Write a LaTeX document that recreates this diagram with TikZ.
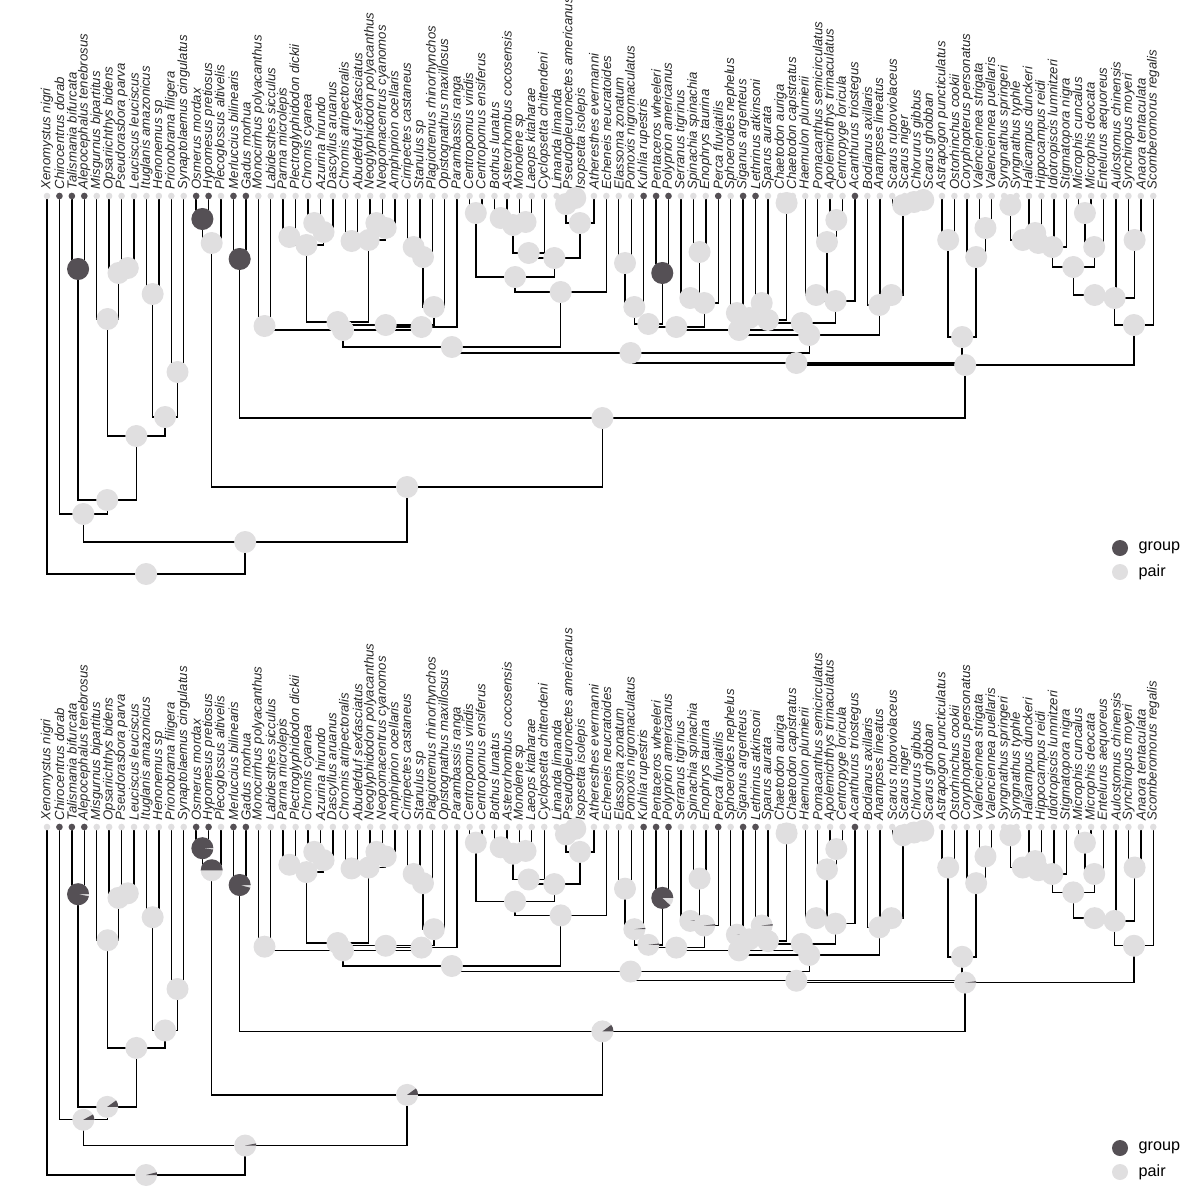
\documentclass[tikz,border=0pt]{standalone}
\usepackage{fontspec}
\setmainfont{Liberation Sans}
\usetikzlibrary{calc}
\definecolor{grp}{RGB}{85,80,85}
\definecolor{par}{RGB}{224,223,224}
\tikzset{
  edge/.style={draw=black,line width=0.4pt},
  tiplab/.style={anchor=west,rotate=90,inner sep=0pt,font=\fontsize{3.75}{4}\selectfont\itshape,text=black!85},
  leglab/.style={anchor=west,inner sep=0pt,font=\fontsize{4.6}{5}\selectfont}
}
\begin{document}
\begin{tikzpicture}[x=0.01cm,y=-0.01cm]
\useasboundingbox (0,0) rectangle (1200,1200);
\foreach \t/\oy/\ty/\sc in {a/0/196/1,b/600/827/0.9206}{
  % tips
  \foreach \nm [count=\i] in {Xenomystus nigri,Chirocentrus dorab,Talismania bifurcata,Alepocephalus tenebrosus,Misgurnus bipartitus,Opsariichthys bidens,Pseudorasbora parva,Leuciscus leuciscus,Ituglanis amazonicus,Henonemus sp,Prionobrama filigera,Synaptolaemus cingulatus,Osmerus mordax,Hypomesus pretiosus,Plecoglossus altivelis,Merluccius bilinearis,Gadus morhua,Monocirrhus polyacanthus,Labidesthes sicculus,Parma microlepis,Plectroglyphidodon dickii,Chromis cyanea,Azurina hirundo,Dascyllus aruanus,Chromis atripectoralis,Abudefduf sexfasciatus,Neoglyphidodon polyacanthus,Neopomacentrus cyanomos,Amphiprion ocellaris,Cirripectes castaneus,Stanulus sp,Plagiotremus rhinorhynchos,Opistognathus maxillosus,Parambassis ranga,Centropomus viridis,Centropomus ensiferus,Bothus lunatus,Asterorhombus cocosensis,Monolene sp,Laeops kitaharae,Cyclopsetta chittendeni,Limanda limanda,Pseudopleuronectes americanus,Isopsetta isolepis,Atheresthes evermanni,Echeneis neucratoides,Elassoma zonatum,Pomoxis nigromaculatus,Kuhlia rupestris,Pentaceros wheeleri,Polyprion americanus,Serranus tigrinus,Spinachia spinachia,Enophrys taurina,Perca fluviatilis,Sphoeroides nephelus,Siganus argenteus,Lethrinus atkinsoni,Sparus aurata,Chaetodon auriga,Chaetodon capistratus,Haemulon plumierii,Pomacanthus semicirculatus,Apolemichthys trimaculatus,Centropyge loricula,Acanthurus triostegus,Bodianus axillaris,Anampses lineatus,Scarus rubroviolaceus,Scarus niger,Chlorurus gibbus,Scarus ghobban,Astrapogon puncticulatus,Ostorhinchus cookii,Coryphopterus personatus,Valenciennea strigata,Valenciennea puellaris,Syngnathus springeri,Syngnathus typhle,Halicampus dunckeri,Hippocampus reidi,Idiotropiscis lumnitzeri,Stigmatopora nigra,Microphis cuncalus,Microphis deocata,Entelurus aequoreus,Aulostomus chinensis,Synchiropus moyeri,Anaora tentaculata,Scomberomorus regalis}{
    \coordinate (\t-\i) at ({47+12.43*(\i-1)},\ty);
    \node[tiplab] (\t-l\i) at ({47+12.43*(\i-1)},\ty-6) {\nm};
  }
  % internal nodes: name/child/child/height
  \foreach \nd/\ca/\cb/\h in {
    n34/3/4/269, n78/7/8/268, n68/6/n78/273, n58/5/n68/319,
    n910/9/10/294, n1112/11/12/372, n912/n910/n1112/417,
    n512/n58/n912/436, n312/n34/n512/500, n212/2/n312/514,
    n1314/13/14/219, n1315/n1314/15/243, n1617/16/17/259,
    n1819/18/19/326, n2021/20/21/237, n2223/22/23/223,
    n2224/n2223/24/232, n2024/n2021/n2224/245, n2526/25/26/241,
    n2728/27/28/223, n2729/n2728/29/228, n2529/n2526/n2729/240,
    n2029/n2024/n2529/322, n3031/30/31/247, n3032/n3031/32/257,
    n3033/n3032/33/307, n2033/n2029/n3033/325, n2034/n2033/34/327,
    n1834/n1819/n2034/330, n3536/35/36/213, n3738/37/38/218,
    n3940/39/40/222, n3740/n3738/n3940/225, n3741/n3740/41/253,
    n4344/43/44/198, n4244/42/n4344/204, n4245/n4244/45/223,
    n3745/n3741/n4245/258, n3545/n3536/n3745/277, n3546/n3545/46/292,
    n1846/n1834/n3546/347, n4748/47/48/263, n4749/n4748/49/307,
    n5051/50/51/273, n4751/n4749/n5051/324, n5354/53/54/252,
    n5254/52/n5354/298, n5255/n5254/55/303, n4755/n4751/n5255/327,
    n5657/56/57/313, n5859/58/59/303, n5659/n5657/n5859/318,
    n6061/60/61/203, n5661/n5659/n6061/320, n6465/64/65/220,
    n6365/63/n6465/242, n6265/62/n6365/295, n6266/n6265/66/301,
    n5666/n5661/n6266/323, n4766/n4755/n5666/330, n7172/71/72/200,
    n7072/70/n7172/202, n6972/69/n7072/205, n6872/68/n6972/295,
    n6772/67/n6872/305, n4772/n4766/n6772/335, n1872/n1846/n4772/353,
    n7374/73/74/240, n7677/76/77/228, n7577/75/n7677/257,
    n7377/n7374/n7577/337, n1877/n1872/n7377/363, n7879/78/79/205,
    n8081/80/81/233, n7881/n7879/n8081/240, n7882/n7881/82/243,
    n7883/n7882/83/247, n8485/84/85/213, n8486/n8485/86/247,
    n7886/n7883/n8486/267, n7887/n7886/87/295, n8889/88/89/240,
    n7889/n7887/n8889/298, n7890/n7889/90/325, n1890/n1877/n7890/365,
    n1690/n1617/n1890/418, n1390/n1315/n1690/487,
    n290/n212/n1390/542, root/1/n290/574}{
    \pgfmathsetmacro\hh{\ty+(\h-196)*\sc}
    \path let \p1=($(\t-\ca)!0.5!(\t-\cb)$), \p2=(0,\hh) in coordinate (\t-\nd) at (\x1,\y2);
    \draw[edge] (\t-\ca) |- (\t-\nd) -| (\t-\cb);
  }
  % pies: name/top/bottom share of group
  \foreach \nd/\f/\g in {n34/1/0.97, n78/0/0, n68/0/0, n58/0/0, n910/0/0, n1112/0/0, n912/0/0,
    n512/0/0, n312/0/0.1, n212/0/0.08, n1314/1/0.98, n1315/0/0.5, n1617/1/0.96,
    n1819/0/0, n2021/0/0, n2223/0/0, n2224/0/0, n2024/0/0, n2526/0/0, n2728/0/0,
    n2729/0/0, n2529/0/0, n2029/0/0, n3031/0/0, n3032/0/0, n3033/0/0, n2033/0/0,
    n2034/0/0, n1834/0/0, n3536/0/0, n3738/0/0, n3940/0/0, n3740/0/0, n3741/0/0,
    n4344/0/0, n4244/0/0, n4245/0/0, n3745/0/0, n3545/0/0, n3546/0/0, n1846/0/0,
    n4748/0/0, n4749/0/0.02, n5051/1/0.88, n4751/0/0.02, n5354/0/0, n5254/0/0.02,
    n5255/0/0.02, n4755/0/0, n5657/0/0.02, n5859/0/0.02, n5659/0/0, n6061/0/0,
    n5661/0/0, n6465/0/0, n6365/0/0, n6265/0/0, n6266/0/0, n5666/0/0, n4766/0/0,
    n7172/0/0, n7072/0/0, n6972/0/0, n6872/0/0, n6772/0/0, n4772/0/0, n1872/0/0,
    n7374/0/0, n7677/0/0, n7577/0/0, n7377/0/0, n1877/0/0, n7879/0/0, n8081/0/0,
    n7881/0/0, n7882/0/0, n7883/0/0, n8485/0/0, n8486/0/0, n7886/0/0, n7887/0/0,
    n8889/0/0, n7889/0/0, n7890/0/0, n1890/0/0.02, n1690/0/0.1, n1390/0/0.1,
    n290/0/0.03, root/0/0.04}{
    \ifnum\oy=0 \edef\pf{\f}\else\edef\pf{\g}\fi
    \fill[par] (\t-\nd) circle[radius=0.11cm];
    \ifdim\pf pt>0pt
      \fill[grp] (\t-\nd) -- ++(0:0.11cm) arc[start angle=0,end angle={360*\pf},radius=0.11cm] -- cycle;
    \fi
  }
  % tip dots
  \foreach \i in {1,...,90}{\fill[par] (\t-\i) circle[radius=0.033cm];}
  \foreach \i in {2,3,4,13,14,16,17,49,50,51,55,57,58,66}{\fill[grp] (\t-\i) circle[radius=0.033cm];}
  % legend
  \fill[grp] (1120,548+\oy) coordinate (\t-lg) circle[radius=0.08cm];
  \fill[par] (1120,572+\oy) coordinate (\t-lp) circle[radius=0.08cm];
  \node[leglab] (\t-tg) at (1138,548+\oy) {group};
  \node[leglab] (\t-tp) at (1138,572+\oy) {pair};
}
\end{tikzpicture}
\end{document}
